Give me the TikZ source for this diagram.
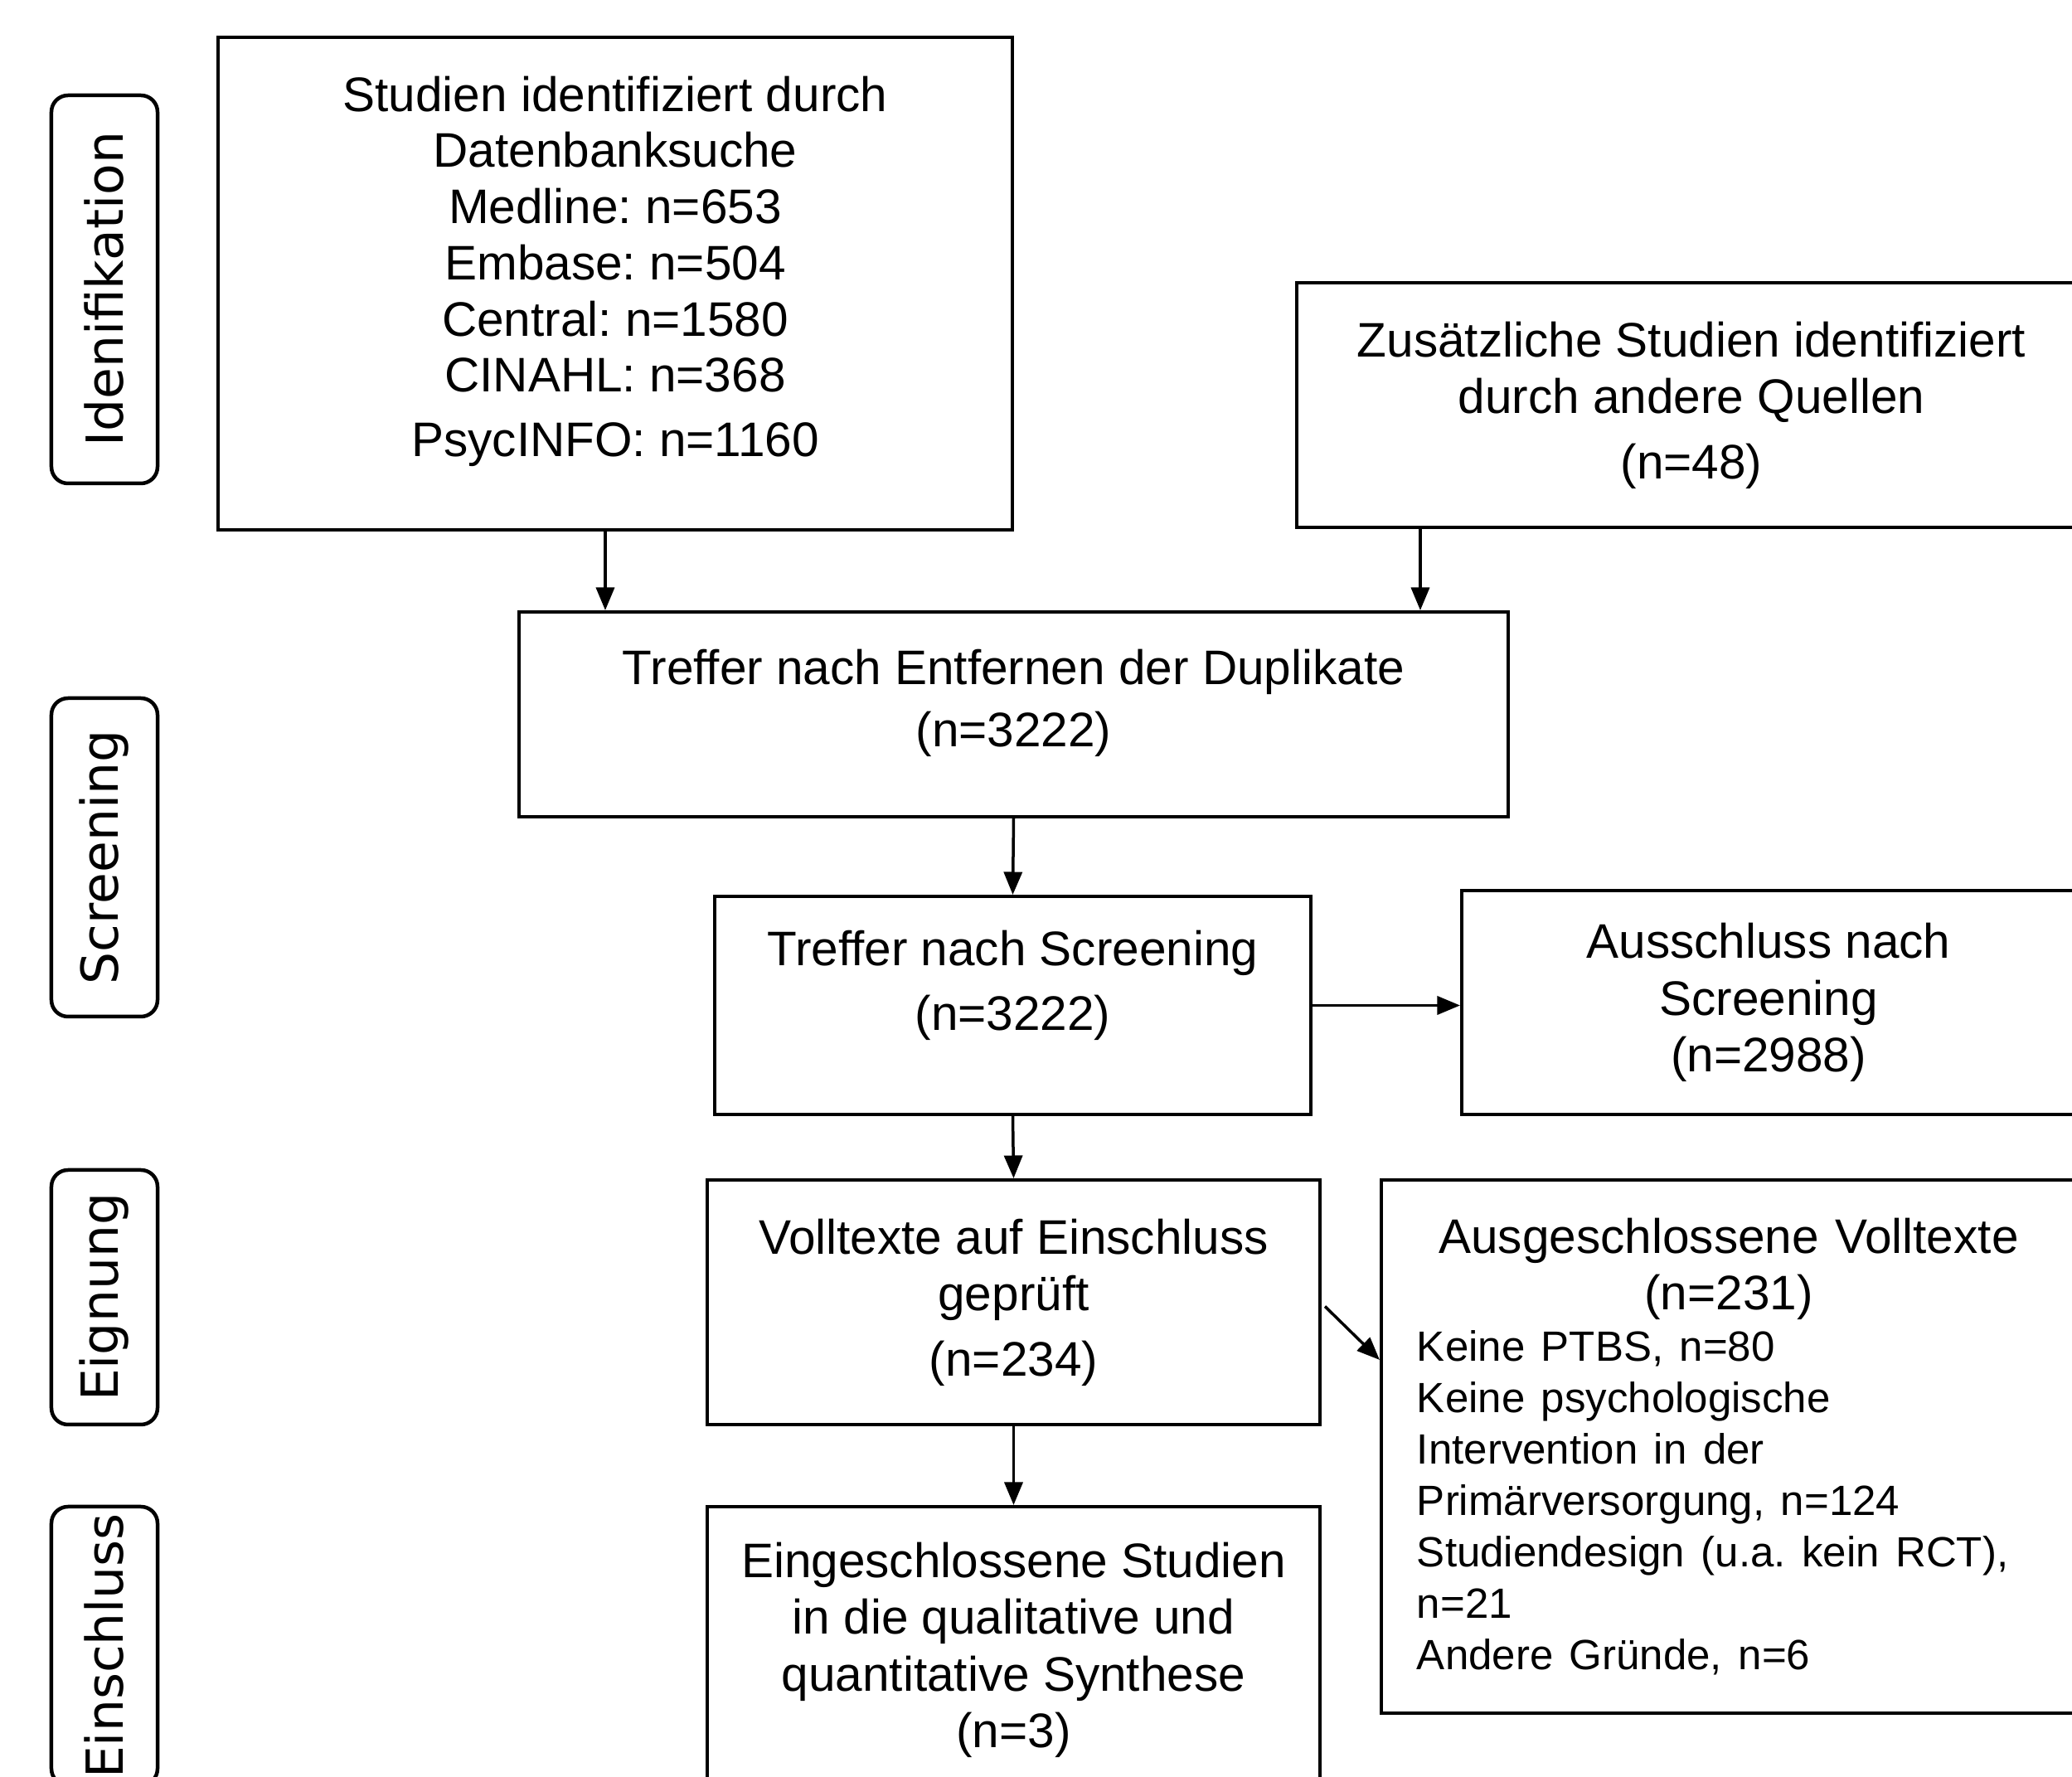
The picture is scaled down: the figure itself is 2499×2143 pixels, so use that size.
\documentclass[tikz,border=0pt]{standalone}
\usepackage{fontspec}
\setmainfont{Liberation Sans}
\newfontfamily\sidefont{DejaVu Sans}
\usetikzlibrary{arrows.meta,calc}
\frenchspacing
\begin{document}
\begin{tikzpicture}[x=0.2pt,y=-0.2pt,
  box/.style={draw=black, line width=0.8pt, fill=white, inner sep=0pt,
    font=\fontsize{11.7}{13.7}\selectfont},
  cbox/.style={box, align=center},
  side/.style={draw=black, line width=0.9pt, rounded corners=4pt, rotate=90,
    inner sep=0pt, minimum height=25.6pt, font=\sidefont\fontsize{12.3}{14}\selectfont},
  arr/.style={line width=0.7pt, -{Triangle[length=5.5pt,width=4.4pt]}}]
\useasboundingbox (0,0) rectangle (2499,2143);
\clip (0,0) rectangle (2499,2143);

% phase labels
\node[side, minimum width=93.6pt] (sid) at (126,349) {Idenifikation};
\node[side, minimum width=76.8pt] (sscr) at (126,1034) {Screening};
\node[side, minimum width=61.4pt] (seig) at (126,1564.5) {Eignung};
\node[side, minimum width=67.2pt] (sein) at (126,1985) {Einschluss};

% boxes
\node[cbox, minimum width=191.6pt, minimum height=118.8pt, text depth=8.3pt,
  font=\fontsize{11.7}{13.55}\selectfont] (db) at (742,342)
  {Studien identifiziert durch\\Datenbanksuche\\Medline: n=653\\Embase: n=504\\Central: n=1580\\CINAHL: n=368\\[2pt]PsycINFO: n=1160};
\node[cbox, minimum width=190.4pt, minimum height=59pt] (other) at (2040,488.5)
  {Zusätzliche Studien identifiziert\\durch andere Quellen\\[2pt](n=48)};
\node[cbox, minimum width=238.6pt, minimum height=49.4pt, text depth=7.7pt] (dup) at (1222.5,861.5)
  {Treffer nach Entfernen der Duplikate\\[1.3pt](n=3222)};
\node[cbox, minimum width=143.8pt, minimum height=52.6pt, text depth=12.1pt] (scr) at (1221.5,1212.5)
  {Treffer nach Screening\\[2pt](n=3222)};
\node[cbox, minimum width=148pt, minimum height=54pt] (exscr) at (2133,1209)
  {Ausschluss nach\\Screening\\(n=2988)};
\node[cbox, minimum width=147.8pt, minimum height=59pt] (full) at (1222.5,1570.5)
  {Volltexte auf Einschluss\\geprüft\\[2pt](n=234)};
\node[box, text width=150.4pt, inner xsep=8.6pt, minimum height=128.6pt] (exfull) at (2085,1744.5)
  {{\centering Ausgeschlossene Volltexte\\(n=231)\par}
   {\raggedright\fontsize{10.2}{12.4}\selectfont Keine PTBS, n=80\\Keine psychologische\\Intervention in der\\Primärversorgung, n=124\\Studiendesign (u.a. kein RCT),\\n=21\\Andere Gründe, n=6\par}};
\node[cbox, minimum width=147.8pt, minimum height=69.2pt] (incl) at (1222.5,1990)
  {Eingeschlossene Studien\\in die qualitative und\\quantitative Synthese\\(n=3)};

% connectors
\coordinate (a1) at ($(db.south west)+(469,0)$);
\coordinate (a2) at ($(other.south west)+(151,0)$);
\coordinate (a6) at ($(exfull.north west)+(0,219)$);
\draw[arr] (a1) -- (a1 |- dup.north);
\draw[arr] (a2) -- (a2 |- dup.north);
\draw[arr] (dup.south) -- (scr.north);
\draw[arr] (scr.east) -- (scr.east -| exscr.west);
\draw[arr] (scr.south) -- (full.north);
\draw[arr] ($(full.east)+(4,5)$) -- (a6);
\draw[arr] (full.south) -- (incl.north);
\end{tikzpicture}
\end{document}
